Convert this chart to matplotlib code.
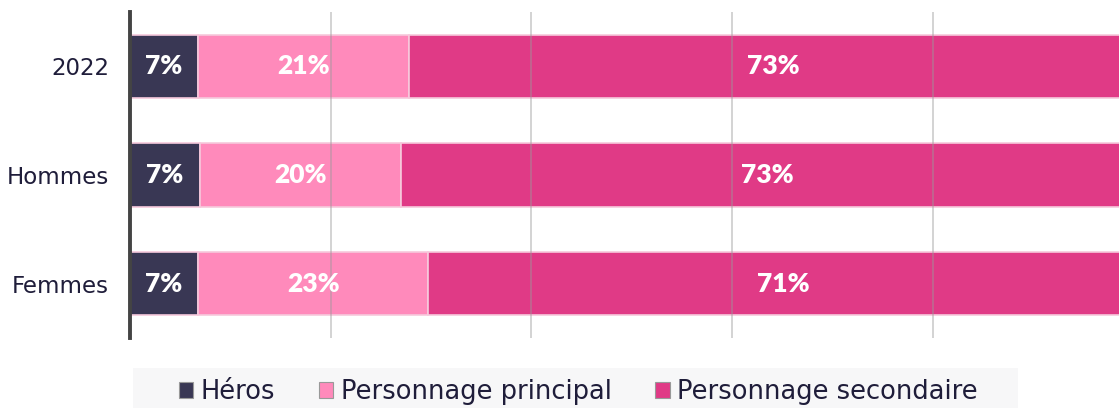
import matplotlib
matplotlib.use("Agg")
import matplotlib.pyplot as plt
from matplotlib.patches import Patch, Rectangle

categories = ["2022", "Hommes", "Femmes"]
series_names = ["Héros", "Personnage principal", "Personnage secondaire"]
heros = [6.8, 7.0, 6.8]
principal = [21.0, 20.0, 22.9]
secondaire = [72.7, 73.0, 70.8]
labels = [["7%", "21%", "73%"], ["7%", "20%", "73%"], ["7%", "23%", "71%"]]
colors = ["#393754", "#ff8abb", "#e03a86"]
text_color = "#1f1d3a"

plt.rcParams['font.family'] = ['DejaVu Sans']

fig = plt.figure(figsize=(11.19, 4.08), dpi=100)
ax = fig.add_axes([130/1119, 70/408, 1003.5/1119, 326/408])

y = list(range(len(categories)))
left = [0]*len(categories)
for si, vals in enumerate([heros, principal, secondaire]):
    bars = ax.barh(y, vals, left=left, height=0.585, color=colors[si],
                   edgecolor="#f6c9dc", linewidth=1.2, zorder=2)
    for i, b in enumerate(bars):
        cx = left[i] + vals[i]/2
        ax.text(cx, i, labels[i][si], ha="center", va="center", color="white",
                fontsize=19, fontweight="heavy", family=["Lato", "DejaVu Sans"], zorder=4)
    left = [l + v for l, v in zip(left, vals)]

ax.set_xlim(0, 100)
ax.set_ylim(2.5, -0.5)
ax.set_yticks(y)
ax.set_yticklabels(categories, fontsize=16.5, color=text_color)
ax.set_xticks([20, 40, 60, 80])
ax.tick_params(axis="x", length=0, labelbottom=False)
ax.tick_params(axis="y", length=0, pad=15)
ax.grid(axis="x", color="#9a9a9a", alpha=0.5, linewidth=1.2, zorder=3)
ax.set_axisbelow(False)
for s in ["top", "right", "bottom"]:
    ax.spines[s].set_visible(False)
ax.spines["left"].set_color("#444444")
ax.spines["left"].set_linewidth(2.8)
ax.spines["left"].set_zorder(5)

fig.patches.append(Rectangle((133/1119, 0), 885/1119, 40/408, transform=fig.transFigure,
                             facecolor="#f7f7f8", edgecolor="none", zorder=0))
handles = [Patch(facecolor=c, edgecolor="#999999", linewidth=0.8) for c in colors]
leg = fig.legend(handles, series_names, loc="center left",
                 bbox_to_anchor=(179/1119, 16/408), ncol=3, frameon=False,
                 fontsize=18.5, handlelength=0.55, handleheight=0.55,
                 handletextpad=0.3, columnspacing=1.7, borderpad=0, borderaxespad=0)
for t in leg.get_texts():
    t.set_color(text_color)

fig.savefig("out.png", dpi=100)
